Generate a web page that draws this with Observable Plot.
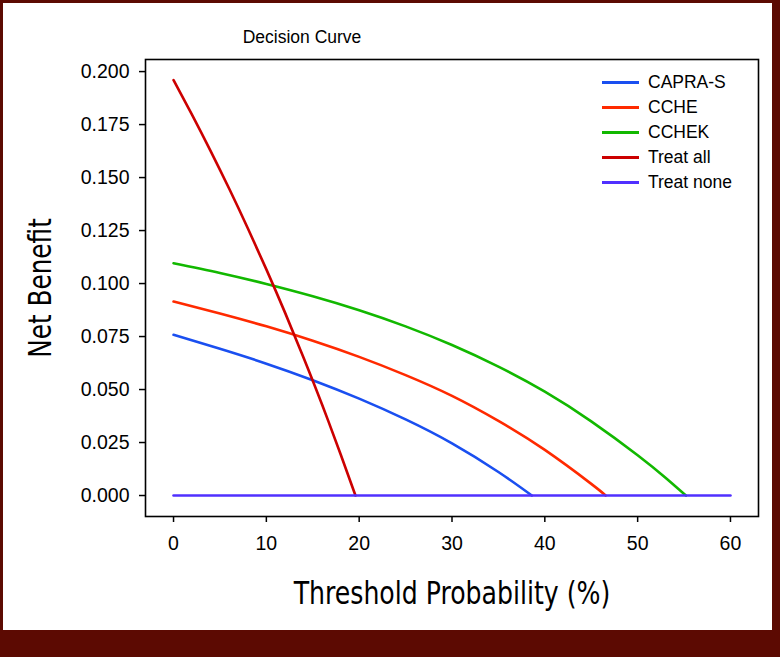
<!DOCTYPE html>
<html>
<head>
<meta charset="utf-8">
<script src="https://cdn.jsdelivr.net/npm/d3@7"></script>
<script src="https://cdn.jsdelivr.net/npm/@observablehq/plot@0.6"></script>
<style>
  body { margin: 0; }
  #wrap { position: relative; width: 780px; height: 657px; background: #5c0a02; overflow: hidden; font-family: "Liberation Sans", Arial, sans-serif; }
  #panel { position: absolute; left: 3px; top: 3px; width: 769px; height: 627px; background: #ffffff; }
  #chart { position: absolute; left: 0; top: 0; }
  #title { position: absolute; left: 0; width: 604px; top: 27px; text-align: center; font-size: 17.5px; line-height: 20px; color: #000; }
  .leg { position: absolute; left: 602px; height: 20px; }
  .leg .sw { position: absolute; left: 0; top: 9px; width: 37px; height: 3px; }
  .leg .lb { position: absolute; left: 46px; top: 0; font-size: 17.5px; line-height: 20px; color: #000; white-space: nowrap; }
</style>
</head>
<body>
<div id="wrap">
  <div id="panel"></div>
  <div id="chart"></div>
  <div id="title">Decision Curve</div>
  <div id="legend"></div>
</div>
<script>
// ---- data ----
const seriesNames = ["CAPRA-S", "CCHE", "CCHEK", "Treat all", "Treat none"];
const seriesColors = ["#1a4ff0", "#ff2a00", "#12b800", "#cc0000", "#5030ff"];

const capraThreshold = [0, 5, 10, 15, 20, 25, 30, 35, 38.6];
const capraNB        = [0.0758, 0.0692, 0.0622, 0.0544, 0.0457, 0.0359, 0.0246, 0.0111, 0];

const ccheThreshold = [0, 5, 10, 15, 20, 25, 30, 35, 40, 45, 46.55];
const ccheNB        = [0.0915, 0.0859, 0.0798, 0.0730, 0.0654, 0.0568, 0.0470, 0.0352, 0.0215, 0.0055, 0];

const cchekThreshold = [0, 5, 10, 15, 20, 25, 30, 35, 40, 45, 50, 53, 55.2];
const cchekNB        = [0.1096, 0.1050, 0.0998, 0.0940, 0.0874, 0.0798, 0.0710, 0.0608, 0.0490, 0.0350, 0.0190, 0.0084, 0];

const allThreshold = [0, 2, 4, 6, 8, 10, 12, 14, 16, 18, 19.6];
const allNB        = [0.1960, 0.1796, 0.1625, 0.1447, 0.1261, 0.1067, 0.0864, 0.0651, 0.0429, 0.0195, 0];

const noneThreshold = [0, 60];
const noneNB        = [0, 0];

const xTicks = [0, 10, 20, 30, 40, 50, 60];
const yTicks = [0, 0.025, 0.05, 0.075, 0.1, 0.125, 0.15, 0.175, 0.2];

const xLabel = "Threshold Probability (%)";
const yLabel = "Net Benefit";

// ---- build table ----
const groups = [
  [capraThreshold, capraNB],
  [ccheThreshold, ccheNB],
  [cchekThreshold, cchekNB],
  [allThreshold, allNB],
  [noneThreshold, noneNB]
];
const rows = [];
groups.forEach(([t, v], i) => t.forEach((x, j) => rows.push({series: seriesNames[i], t: x, nb: v[j]})));

const narrow = "'Liberation Sans Narrow', 'DejaVu Sans Condensed', 'Liberation Sans', sans-serif";

const chart = Plot.plot({
  width: 780,
  height: 657,
  marginLeft: 145,
  marginRight: 22,
  marginTop: 59,
  marginBottom: 141,
  style: {background: "transparent", overflow: "visible", fontFamily: "'Liberation Sans', Arial, sans-serif", color: "#000"},
  x: {domain: [-3.02, 63.02]},
  y: {domain: [-0.0099, 0.2057]},
  color: {domain: seriesNames, range: seriesColors},
  marks: [
    ...seriesNames.map(name => Plot.line(rows.filter(d => d.series === name), {
      x: "t", y: "nb", stroke: "series", strokeWidth: 2.6, curve: "natural"
    })),
    Plot.frame({stroke: "#000", strokeWidth: 1.6}),
    Plot.axisX({ticks: xTicks, tickSize: 6, tickPadding: 14, fontSize: 19.5, label: null, strokeWidth: 1.5}),
    Plot.axisY({ticks: yTicks, tickFormat: d3.format(".3f"), tickSize: 6, tickPadding: 10, fontSize: 19.5, label: null, strokeWidth: 1.5}),
    Plot.text([xLabel], {frameAnchor: "bottom", text: d => d, textAnchor: "middle", lineAnchor: "bottom", dy: 87, fontSize: 32, fontFamily: narrow, fill: "#000"}),
    Plot.text([yLabel], {frameAnchor: "left", text: d => d, textAnchor: "middle", lineAnchor: "bottom", rotate: -90, dx: -95, fontSize: 32, fontFamily: narrow, fill: "#000"})
  ]
});
// condense the two axis titles horizontally (the reference uses a condensed face)
chart.querySelectorAll('g[aria-label="text"] text').forEach(t => {
  const tr = t.getAttribute("transform") || "";
  const s = t.textContent === xLabel ? 0.875 : 0.86;
  t.setAttribute("transform", tr + ` scale(${s},1)`);
});
document.getElementById("chart").appendChild(chart);

// legend
const legend = document.getElementById("legend");
seriesNames.forEach((name, i) => {
  const e = document.createElement("div");
  e.className = "leg";
  e.style.top = (72 + i * 25) + "px";
  e.innerHTML = `<div class="sw" style="background:${seriesColors[i]}"></div><div class="lb">${name}</div>`;
  legend.appendChild(e);
});
</script>
</body>
</html>
